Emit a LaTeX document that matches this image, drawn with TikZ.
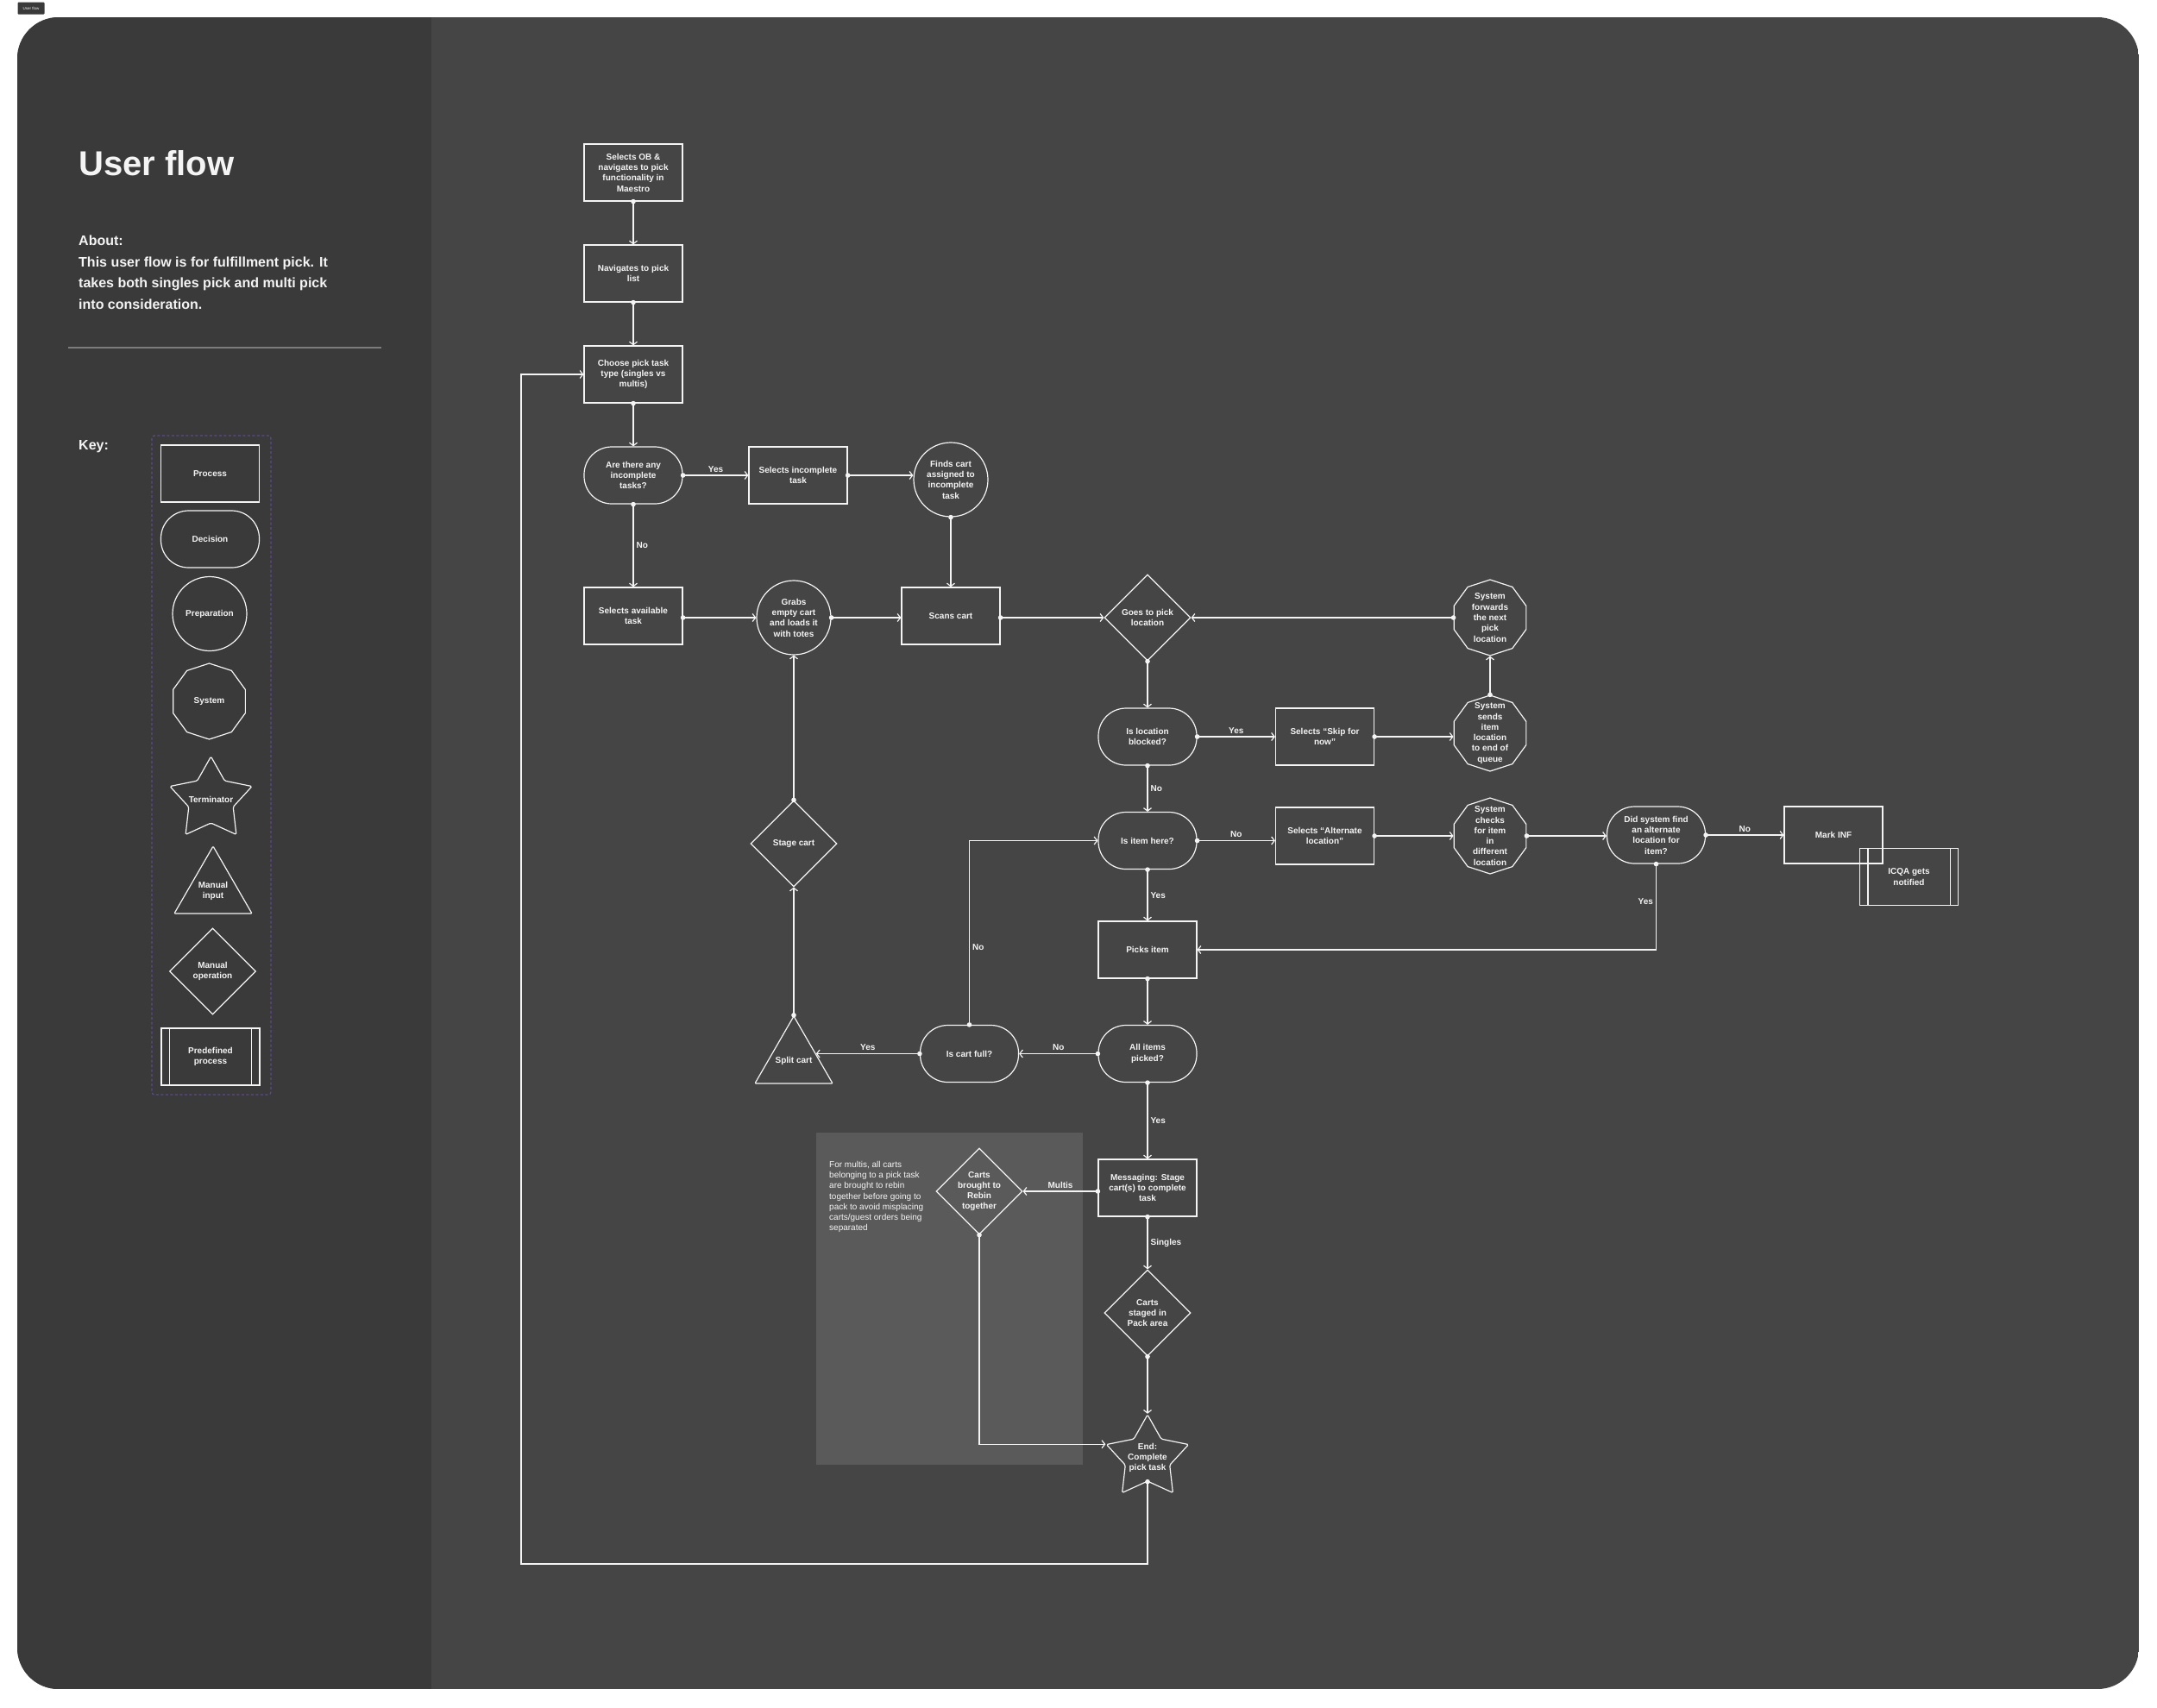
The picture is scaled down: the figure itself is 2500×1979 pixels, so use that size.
\documentclass[tikz,border=0pt]{standalone}
\usepackage{fontspec}
\setmainfont{Liberation Sans}
\usepackage{tikz}
\usetikzlibrary{positioning,arrows.meta,shapes.geometric,calc}

\definecolor{frameL}{HTML}{3A3A3A}
\definecolor{frameR}{HTML}{454545}
\definecolor{notebg}{HTML}{5A5A5A}
\definecolor{ink}{HTML}{F4F4F4}
\definecolor{keyline}{HTML}{5B4A8F}
\definecolor{rulegray}{HTML}{7C7C7C}

\newcommand{\flowfont}{\bfseries\fontsize{10}{12.3}\selectfont}

\begin{document}
\begin{tikzpicture}[
    x=1pt, y=-1pt,
    node distance=49.8pt and 75.8pt,
    shape line/.style={draw=ink, line width=1.2pt},
    box/.style={shape line, rectangle, minimum width=114pt, minimum height=66pt, inner sep=0pt, align=center, font=\flowfont, text=ink},
    pill/.style={box, rounded corners=32pt},
    prep/.style={shape line, circle, minimum size=86pt, inner sep=0pt, align=center, font=\flowfont, text=ink},
    sysnode/.style={shape line, regular polygon, regular polygon sides=10, shape border rotate=18, minimum size=88pt, inner sep=0pt},
    term/.style={shape line, star, star points=5, star point ratio=1.85, minimum size=100pt, inner sep=0pt, rounded corners=1.5pt},
    manin/.style={shape line, regular polygon, regular polygon sides=3, minimum size=104pt, inner sep=0pt, rounded corners=1pt},
    manop/.style={shape line, diamond, minimum width=100pt, minimum height=100pt, inner sep=0pt},
    txt/.style={align=center, font=\flowfont, text=ink, inner sep=0pt},
    lbl/.style={font=\flowfont, text=ink, inner sep=3pt},
    flow/.style={draw=ink, line width=1.2pt, {Circle[length=5.5pt]}-{Straight Barb[length=3.5pt,width=9pt]}, shorten <=-2.75pt},
]
\useasboundingbox (0,0) rectangle (2500,1979);
\fill[white] (0,0) rectangle (2500,1979);
\begin{scope}
  \clip[rounded corners=48pt] (20,20) rectangle (2479,1958);
  \fill[frameR] (20,20) rectangle (2479,1958);
  \fill[frameL] (20,20) rectangle (500,1958);
\end{scope}
\node[fill=frameL, rounded corners=1pt, minimum width=31pt, minimum height=14pt, inner sep=0pt, font=\fontsize{4.5}{5}\selectfont, text=ink!80] (tag) at (36,9.5) {User flow};

\node[anchor=base west, inner sep=0pt, font=\bfseries\fontsize{40}{48}\selectfont, text=ink] (title) at (91,203) {User flow};
\node[anchor=north west, inner sep=0pt, align=left, font=\bfseries\fontsize{16}{24.5}\selectfont, text=ink] (about) at (91,273) {About:\\This user flow is for fulfillment pick. It\\takes both singles pick and multi pick\\into consideration.};
\draw[rulegray, line width=1.5pt] (79,403) -- (442,403);

\node[anchor=west, inner sep=0pt, font=\bfseries\fontsize{16}{20}\selectfont, text=ink] (keytitle) at (91,518) {Key:};
\draw[keyline, line width=1.2pt, dash pattern=on 3pt off 2.5pt, rounded corners=3pt] (176,505) rectangle (314,1269);
\node[box] (kproc) at (243.5,549) {Process};
\node[pill] (kdec) at (243.5,625) {Decision};
\node[prep] (kprep) at (243,711.5) {Preparation};
\node[sysnode, label={[txt]center:System}] (ksys) at (242.5,813) {};
\node[term, label={[txt]center:Terminator}] (kterm) at (244.5,927) {};
\node[manin, label={[txt]center:{Manual\\input}}] (kmanin) at (247,1033) {};
\node[manop, label={[txt]center:{Manual\\operation}}] (kmanop) at (246.5,1126) {};
\node[box] (kpredef) at (244,1225) {Predefined\\process};

\fill[notebg] (946,1313) rectangle (1254.5,1698);
\node[anchor=north west, inner sep=0pt, align=left, font=\fontsize{10}{12.2}\selectfont, text=ink!88] (note) at (961,1346) {For multis, all carts\\belonging to a pick task\\are brought to rebin\\together before going to\\pack to avoid misplacing\\carts/guest orders being\\separated};

\node[box] (ob) at (734,200) {Selects OB \&\\navigates to pick\\functionality in\\Maestro};
\node[box, below=of ob] (nav) {Navigates to pick\\list};
\node[box, below=of nav] (choose) {Choose pick task\\type (singles vs\\multis)};
\node[pill, below=of choose] (anyinc) {Are there any\\incomplete\\tasks?};
\node[box, right=of anyinc] (selinc) {Selects incomplete\\task};
\node[prep] (finds) at (1102,556) {Finds cart\\assigned to\\incomplete\\task};
\node[box] (selavail) at (734,714) {Selects available\\task};
\node[prep] (grabs) at (920,716) {Grabs\\empty cart\\and loads it\\with totes};
\node[box] (scans) at (1102,714) {Scans cart};
\node[manop, label={[txt]center:{Goes to pick\\location}}] (goes) at (1330,716) {};
\node[sysnode, label={[txt]center:{System\\forwards\\the next\\pick\\location}}] (sysfwd) at (1727,716) {};
\node[pill] (blocked) at (1330,854) {Is location\\blocked?};
\node[box] (skip) at (1535.5,854) {Selects ``Skip for\\now''};
\node[sysnode, label={[txt]center:{System\\sends\\item\\location\\to end of\\queue}}] (sysend) at (1727,850) {};
\node[pill] (itemhere) at (1330,974.5) {Is item here?};
\node[box] (altloc) at (1535.5,969) {Selects ``Alternate\\location''};
\node[sysnode, label={[txt]center:{System\\checks\\for item\\in\\different\\location}}] (syscheck) at (1727,969) {};
\node[pill] (didsys) at (1919.5,968) {Did system find\\an alternate\\location for\\item?};
\node[box] (markinf) at (2125,968) {Mark INF};
\node[box] (icqa) at (2212.5,1016.5) {ICQA gets\\notified};
\node[box] (picks) at (1330,1101) {Picks item};
\node[pill] (allitems) at (1330,1221.5) {All items\\picked?};
\node[pill] (cartfull) at (1123.5,1221.5) {Is cart full?};
\node[manin, label={[txt]center:{Split cart}}] (splitcart) at (920,1230) {};
\node[manop, label={[txt]center:{Stage cart}}] (stagecart) at (920,978) {};
\node[box] (msg) at (1330,1377) {Messaging: Stage\\cart(s) to complete\\task};
\node[manop, label={[txt]center:{Carts\\brought to\\Rebin\\together}}] (rebin) at (1135,1381) {};
\node[manop, label={[txt]center:{Carts\\staged in\\Pack area}}] (staged) at (1330,1522) {};
\node[term, label={[txt]center:{End:\\Complete\\pick task}}] (endstar) at (1330,1690) {};

\foreach \n in {kpredef,icqa} {
  \draw[shape line] ([xshift=10pt]\n.north west) -- ([xshift=10pt]\n.south west);
  \draw[shape line] ([xshift=-10pt]\n.north east) -- ([xshift=-10pt]\n.south east);
}
\coordinate (splitside) at ($(splitcart.corner 1)!0.56!(splitcart.corner 3)$);
\coordinate (loopcorner) at (604,1813);

\draw[flow] (ob) -- (nav);
\draw[flow] (nav) -- (choose);
\draw[flow] (choose) -- (anyinc);
\draw[flow] (anyinc) -- node[lbl, above] {Yes} (selinc);
\draw[flow] (anyinc) -- node[lbl, right] {No} (selavail);
\draw[flow] (selinc.east) -- (selinc.east -| finds.west);
\draw[flow] (finds) -- (scans);
\draw[flow] (selavail.east |- grabs.west) -- (grabs.west);
\draw[flow] (grabs.east) -- (grabs.east -| scans.west);
\draw[flow] (scans.east |- goes.west) -- (goes.west);
\draw[flow] (sysfwd) -- (goes);
\draw[flow] (goes) -- (blocked);
\draw[flow] (blocked) -- node[lbl, above] {Yes} (skip);
\draw[flow] (skip.east) -- (skip.east -| sysend.west);
\draw[flow] (sysend) -- (sysfwd);
\draw[flow] (blocked) -- node[lbl, right] {No} (itemhere);
\draw[flow] (itemhere.east) -- node[lbl, above] {No} (itemhere.east -| altloc.west);
\draw[flow] (altloc.east) -- (altloc.east -| syscheck.west);
\draw[flow] (syscheck.east) -- (syscheck.east -| didsys.west);
\draw[flow] (didsys) -- node[lbl, above] {No} (markinf);
\draw[flow] (didsys.south) |- node[lbl, left, pos=0.22] {Yes} (picks.east);
\draw[flow] (itemhere) -- node[lbl, right] {Yes} (picks);
\draw[flow] (picks) -- (allitems);
\draw[flow] (allitems) -- node[lbl, above] {No} (cartfull);
\draw[flow] (cartfull.north) |- node[lbl, right, pos=0.21] {No} (itemhere.west);
\draw[flow] (cartfull.west) -- node[lbl, above] {Yes} (cartfull.west -| splitside);
\draw[flow] (splitcart.corner 1) -- (stagecart);
\draw[flow] (stagecart) -- (grabs);
\draw[flow] (allitems) -- node[lbl, right] {Yes} (msg);
\draw[flow] (msg.west |- rebin.east) -- node[lbl, above] {Multis} (rebin.east);
\draw[flow] (msg) -- node[lbl, right] {Singles} (staged);
\draw[flow] (staged) -- (endstar);
\draw[flow] (rebin.south) |- (endstar.outer point 2);
\draw[flow] (endstar.inner point 3) |- (loopcorner) |- (choose.west);
\end{tikzpicture}
\end{document}
